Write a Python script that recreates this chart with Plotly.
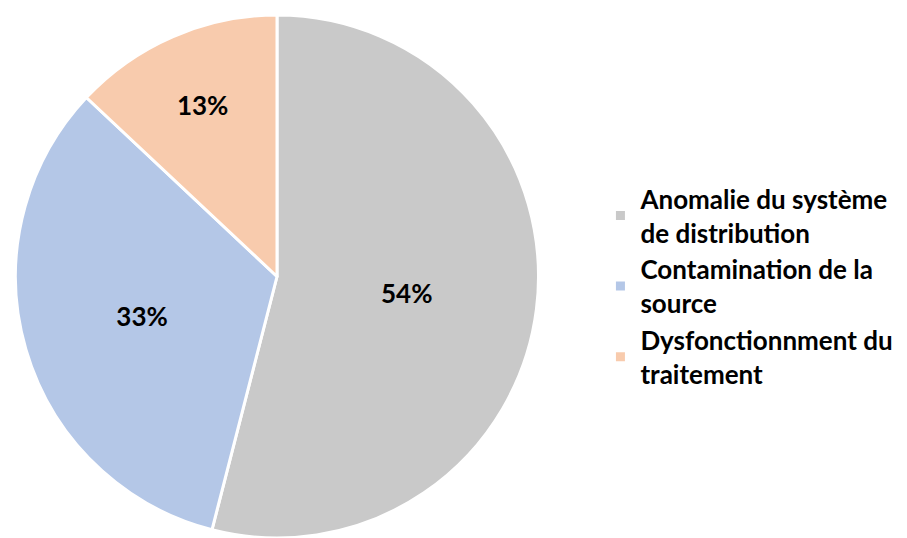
import plotly.graph_objects as go

labels = [
    "Anomalie du système<br>de distribution",
    "Contamination de la<br>source",
    "Dysfonctionnment du<br>traitement",
]
values = [54, 33, 13]
colors = ["#C9C9C9", "#B4C7E7", "#F8CBAD"]

fig = go.Figure()
fig.add_trace(
    go.Pie(
        labels=labels,
        values=values,
        sort=False,
        direction="clockwise",
        rotation=0,
        marker=dict(colors=colors, line=dict(color="white", width=3)),
        texttemplate="%{percent:.0%}",
        textposition="inside",
        insidetextorientation="horizontal",
        textfont=dict(family="Lato", size=26, color="black", weight="bold"),
        domain=dict(x=[12 / 907, 542 / 907], y=[0, 1 - 15 / 538]),
        hoverinfo="label+percent",
    )
)

fig.update_layout(
    width=907,
    height=538,
    margin=dict(l=0, r=0, t=0, b=0),
    paper_bgcolor="white",
    plot_bgcolor="white",
    legend=dict(
        x=0.662,
        y=0.468,
        yanchor="middle",
        xanchor="left",
        font=dict(family="Lato", size=26, color="black", weight="bold"),
        itemwidth=30,
        tracegroupgap=0,
    ),
)

fig.write_html(
    "out.html",
    config={"displayModeBar": False},
    post_script="document.body.style.margin='0';",
)
